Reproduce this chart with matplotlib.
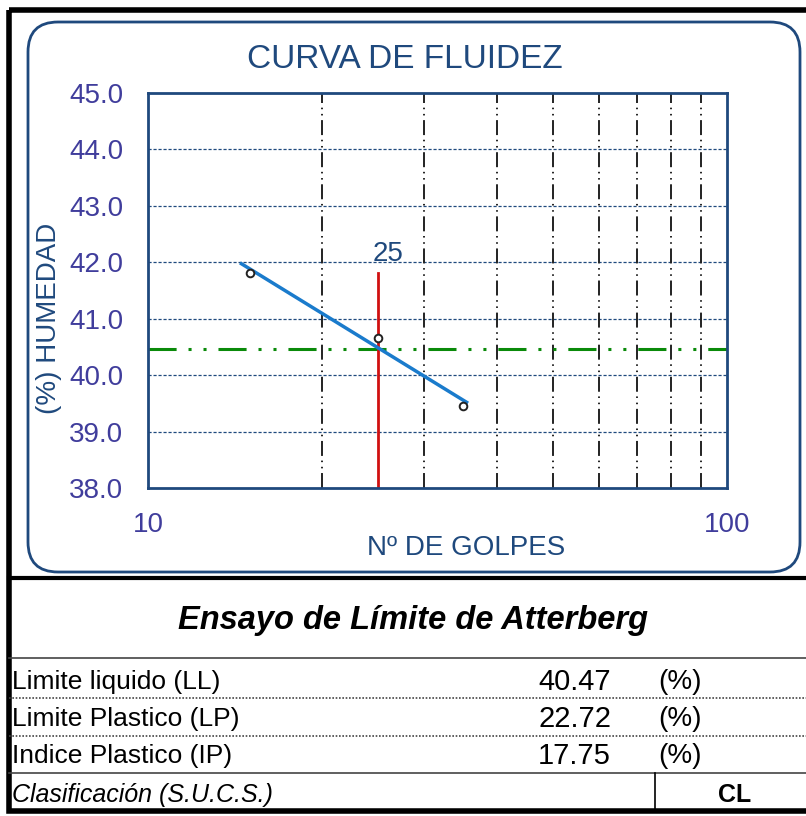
import numpy as np
import matplotlib.pyplot as plt
from matplotlib.patches import FancyBboxPatch, Rectangle

plt.rcParams['font.family'] = ['Liberation Sans', 'DejaVu Sans']

# Datos del ensayo
golpes = [15, 25, 35]
humedad = [41.81, 40.66, 39.45]
fit_range = [14.5, 35.5]
ll, lp, ip = 40.47, 22.72, 17.75
clasificacion = "CL"
y_ticks = [38.0, 39.0, 40.0, 41.0, 42.0, 43.0, 44.0, 45.0]
x_grid = [20, 30, 40, 50, 60, 70, 80, 90]
filas = ["Limite liquido (LL)", "Limite Plastico (LP)", "Indice Plastico (IP)"]
valores = [ll, lp, ip]

azul = '#1f497d'
morado = '#403d9c'

W, H = 806, 816
fig = plt.figure(figsize=(W / 100, H / 100), dpi=100)

# capa de fondo en pixeles para marcos y tabla
bg = fig.add_axes([0, 0, 1, 1])
bg.set_xlim(0, W)
bg.set_ylim(H, 0)
bg.axis('off')

bg.add_patch(Rectangle((9, 10), 820, 801, fill=False, ec='black', lw=4))
bg.add_patch(FancyBboxPatch((28, 22), 772, 550, boxstyle="round,pad=0,rounding_size=30",
                            fill=False, ec=azul, lw=2))
bg.plot([9, W], [578, 578], color='black', lw=3)

bg.text(405, 60, "CURVA DE FLUIDEZ", ha='center', va='center', fontsize=24, color=azul)
bg.text(466, 548, "Nº DE GOLPES", ha='center', va='center', fontsize=20, color=azul)
bg.text(49, 318, "(%) HUMEDAD", ha='center', va='center', fontsize=20, color=azul,
        rotation=90)

# tabla de resultados
bg.text(413, 621, "Ensayo de Límite de Atterberg", ha='center', va='center',
        fontsize=23.5, fontweight='bold', style='italic')
bg.plot([9, W], [658, 658], color='#444444', lw=1.2)
bg.plot([9, W], [698, 698], color='#444444', lw=1.2, ls=(0, (1, 1)))
bg.plot([9, W], [736, 736], color='#444444', lw=1.2, ls=(0, (1, 1)))
bg.plot([9, W], [773, 773], color='#444444', lw=1.2)
bg.plot([655, 655], [773, 811], color='black', lw=1.2)
for i, (nombre, v) in enumerate(zip(filas, valores)):
    y = 682 + i * 37
    bg.text(12, y, nombre, ha='left', va='center', fontsize=19)
    bg.text(611, y, f"{v:.2f}", ha='right', va='center', fontsize=21)
    bg.text(658, y, "(%)", ha='left', va='center', fontsize=20)
bg.text(12, 795, "Clasificación (S.U.C.S.)", ha='left', va='center', fontsize=18, style='italic')
bg.text(735, 795, clasificacion, ha='center', va='center', fontsize=18, fontweight='bold')

# curva de fluidez
ax = fig.add_axes([148 / W, 1 - 488 / H, 579 / W, 395 / H])
ax.set_xscale('log')
ax.set_xlim(10, 100)
ax.set_ylim(38, 45)

for y in y_ticks[1:-1]:
    ax.axhline(y, color=azul, lw=0.9, ls=(0, (2.5, 1.5)), zorder=1)
for x in x_grid:
    ax.axvline(x, color='#222222', lw=1.4, ls=(0, (7.7, 2.4, 0.8, 2.4, 0.8, 2.4)), zorder=1)

# recta de ajuste semilogaritmica
pend, inter = np.polyfit(np.log10(golpes), humedad, 1)
xf = np.array(fit_range)
ax.plot(xf, pend * np.log10(xf) + inter, color='#1a7bcc', lw=2.5, zorder=3)
ax.axhline(ll, color='#0a8a0a', lw=2.2, ls=(0, (9.2, 3.9, 1, 3.9, 1, 3.9)), zorder=2)
ax.plot([25, 25], [38, max(humedad)], color='#d01010', lw=2, zorder=2)
ax.annotate("25", (25, max(humedad)), xytext=(7, 4), textcoords='offset points',
            ha='center', va='bottom', fontsize=20, color=azul)
ax.plot(golpes, humedad, 'o', ms=5.5, mfc='white', mec='#222222', mew=1.4, zorder=4)

ax.set_yticks(y_ticks)
ax.set_yticklabels([f"{v:.1f}" for v in y_ticks], fontsize=20, color=morado)
ax.set_xticks([10, 100])
ax.set_xticklabels(["10", "100"], fontsize=20, color=morado)
ax.minorticks_off()
ax.tick_params(axis='both', length=0)
ax.tick_params(axis='x', pad=17)
ax.tick_params(axis='y', pad=18)
for s in ax.spines.values():
    s.set_color(azul)
    s.set_linewidth(2)

fig.savefig('out.png', dpi=100)
